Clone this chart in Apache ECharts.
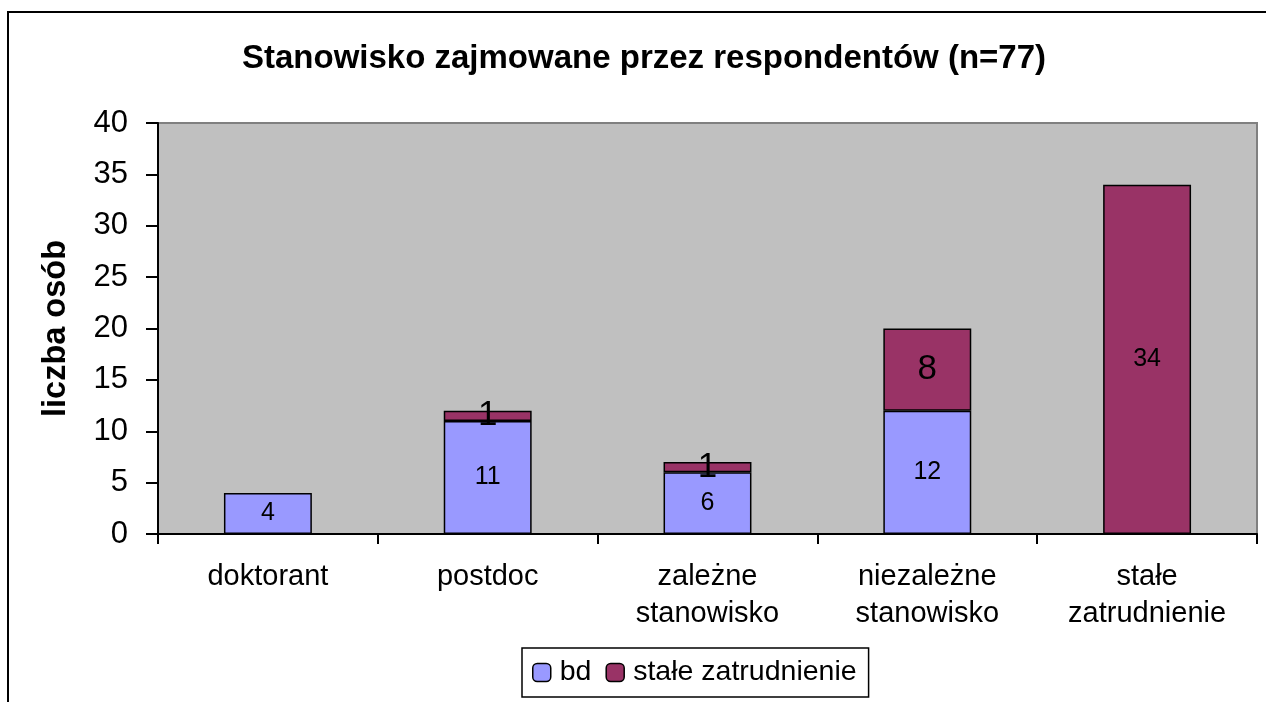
<!DOCTYPE html>
<html>
<head>
<meta charset="utf-8">
<script src="https://cdn.jsdelivr.net/npm/echarts@6/dist/echarts.min.js"></script>
<style>
  html, body { margin: 0; padding: 0; background: #fff; }
  #chart { width: 1266px; height: 702px; }
</style>
</head>
<body>
<div id="chart"></div>
<script>
// dane
var categories = ["doktorant", "postdoc", "zależne\nstanowisko", "niezależne\nstanowisko", "stałe\nzatrudnienie"];
var bdValues = [4, 11, 6, 12, null];
var staleValues = [null, 1, 1, 8, 34];
var yTicks = { min: 0, max: 40, interval: 5 };

var FONT = "Liberation Sans, Arial, sans-serif";

var chart = echarts.init(document.getElementById("chart"));

var option = {
  backgroundColor: "#fff",
  textStyle: { fontFamily: FONT },
  title: {
    text: "Stanowisko zajmowane przez respondentów (n=77)",
    left: 639,
    top: 37,
    textAlign: "center",
    textStyle: { fontFamily: FONT, fontSize: 33, fontWeight: "bold", color: "#000" }
  },
  graphic: [
    {
      type: "rect",
      shape: { x: 8, y: 12, width: 1300, height: 760 },
      style: { fill: "none", stroke: "#000", lineWidth: 2 },
      silent: true
    }
  ],
  legend: {
    bottom: 5,
    left: 522,
    itemWidth: 18,
    itemHeight: 18,
    itemGap: 14,
    padding: [10, 12, 10, 10],
    borderColor: "#000",
    borderWidth: 1.5,
    textStyle: { fontFamily: FONT, fontSize: 28.5, color: "#000", padding: [0, 0, 0, 4] },
    data: [
      { name: "bd", itemStyle: { borderColor: "#000", borderWidth: 1.5 } },
      { name: "stałe zatrudnienie", itemStyle: { borderColor: "#000", borderWidth: 1.5 } }
    ]
  },
  grid: {
    left: 158,
    right: 9,
    top: 123,
    bottom: 168,
    show: true,
    backgroundColor: "#C0C0C0",
    borderColor: "#808080",
    borderWidth: 2
  },
  xAxis: {
    type: "category",
    data: categories,
    axisLine: { lineStyle: { color: "#000", width: 2 } },
    axisTick: { show: true, length: 10, lineStyle: { color: "#000", width: 2 } },
    axisLabel: { fontFamily: FONT, fontSize: 29, color: "#000", lineHeight: 37, margin: 24, interval: 0 }
  },
  yAxis: {
    type: "value",
    min: yTicks.min,
    max: yTicks.max,
    interval: yTicks.interval,
    name: "liczba osób",
    nameLocation: "middle",
    nameGap: 85,
    nameTextStyle: { fontFamily: FONT, fontSize: 32.5, fontWeight: "bold", color: "#000" },
    axisLine: { show: true, lineStyle: { color: "#000", width: 2 } },
    axisTick: { show: true, length: 12, lineStyle: { color: "#000", width: 2 } },
    axisLabel: { fontFamily: FONT, fontSize: 31, color: "#000", margin: 30 },
    splitLine: { show: false }
  },
  series: [
    {
      name: "bd",
      type: "bar",
      stack: "a",
      barWidth: "40%",
      data: bdValues,
      itemStyle: { color: "#9999FF", borderColor: "#000", borderWidth: 1.5 },
      label: { show: true, position: "inside", fontFamily: FONT, fontSize: 25, color: "#000" }
    },
    {
      name: "stałe zatrudnienie",
      type: "bar",
      stack: "a",
      barWidth: "40%",
      data: staleValues.map(function (v) {
        // duża wartość ma mniejszą etykietę
        return v !== null && v > 20 ? { value: v, label: { fontSize: 25 } } : v;
      }),
      itemStyle: { color: "#993366", borderColor: "#000", borderWidth: 1.5 },
      label: { show: true, position: "inside", fontFamily: FONT, fontSize: 35, color: "#000" }
    }
  ]
};

chart.setOption(option);
</script>
</body>
</html>
